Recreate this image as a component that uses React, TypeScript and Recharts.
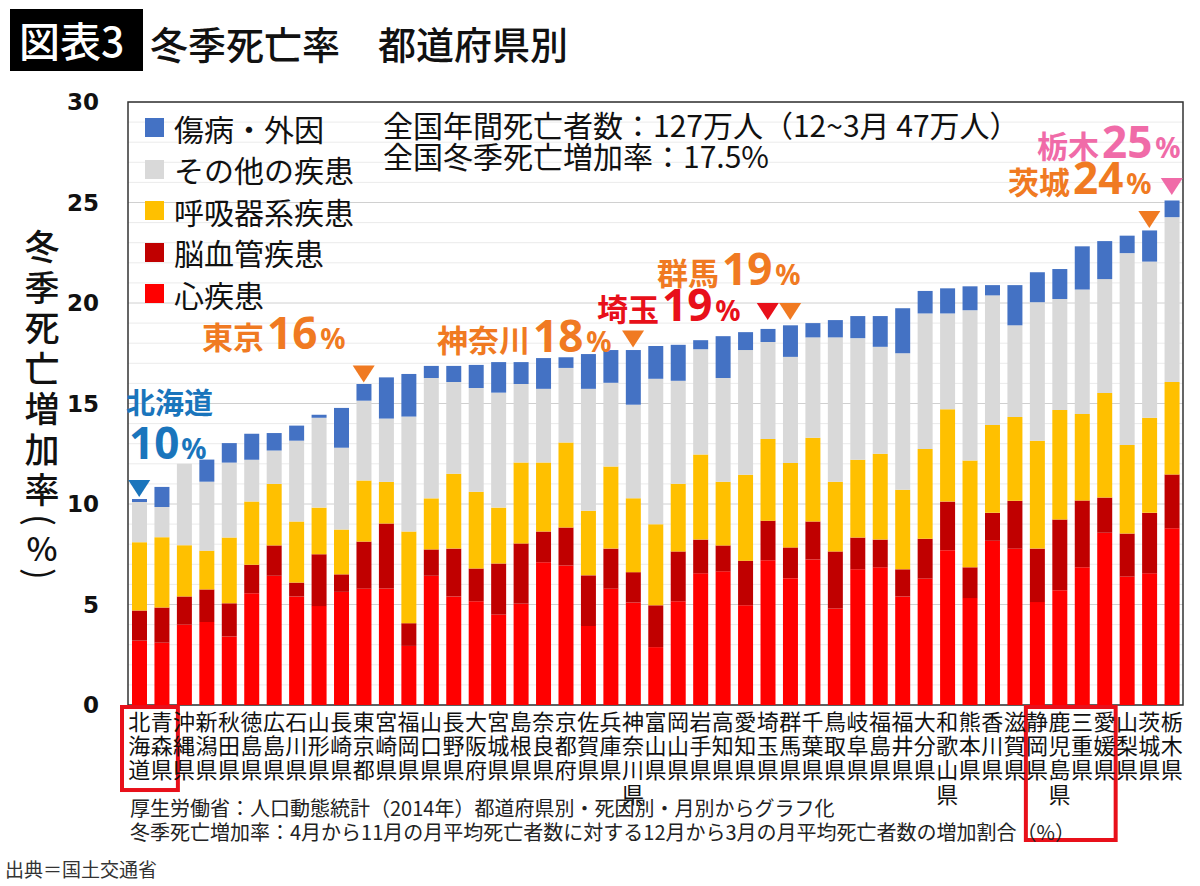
import React from 'react';
import { ComposedChart, Bar, Scatter, XAxis, YAxis, CartesianGrid, ReferenceArea, Legend } from 'recharts';

const prefectures = ['北海道','青森県','沖縄県','新潟県','秋田県','徳島県','広島県','石川県','山形県','長崎県','東京都','宮崎県','福岡県','山口県','長野県','大阪府','宮城県','島根県','奈良県','京都府','佐賀県','兵庫県','神奈川県','富山県','岡山県','岩手県','高知県','愛知県','埼玉県','群馬県','千葉県','鳥取県','岐阜県','福島県','福井県','大分県','和歌山県','熊本県','香川県','滋賀県','静岡県','鹿児島県','三重県','愛媛県','山梨県','茨城県','栃木県'];

const heartDisease = [3.2,3.1,4.0,4.13,3.41,5.56,6.43,5.4,4.92,5.63,5.79,5.79,2.94,6.43,5.4,5.16,4.5,5.04,7.1,6.94,3.93,5.79,5.1,2.88,5.16,6.55,6.65,4.96,7.2,6.31,7.24,4.8,6.75,6.85,5.4,6.29,7.7,5.32,8.17,7.78,5.12,5.71,6.85,8.57,6.39,6.55,8.79];
const cerebrovascular = [1.5,1.75,1.4,1.62,1.65,1.42,1.51,0.69,2.58,0.87,2.34,3.24,1.13,1.31,2.38,1.63,2.54,3.0,1.53,1.89,2.52,1.99,1.51,2.08,2.48,1.68,1.29,2.22,1.97,1.53,1.89,2.84,1.58,1.38,1.35,1.98,2.42,1.53,1.39,2.38,2.66,3.52,3.33,1.75,2.14,3.01,2.68];
const respiratory = [3.4,3.5,2.55,1.93,3.27,3.14,3.06,3.04,2.32,2.23,3.04,2.07,4.56,2.54,3.72,3.82,2.78,4.02,3.43,4.23,3.21,4.09,3.67,4.03,3.37,4.23,3.17,4.27,4.06,4.2,4.16,3.47,3.87,4.27,3.96,4.47,4.6,5.31,4.37,4.17,5.37,5.45,4.3,5.2,4.41,4.73,4.6];
const otherDiseases = [2.0,1.5,4.05,3.43,3.73,2.08,1.66,4.02,4.47,4.07,3.97,3.15,5.72,5.99,4.57,5.16,5.72,3.91,3.67,3.71,6.07,4.16,4.66,7.24,5.12,5.24,5.16,6.21,4.83,5.28,5.0,7.18,6.05,5.32,6.79,6.74,4.76,7.48,6.45,4.56,6.89,5.52,6.19,5.67,9.54,7.77,8.2];
const injuries = [0.15,1.0,0.0,1.1,0.97,1.3,0.87,0.75,0.15,1.98,0.83,2.05,2.12,0.6,0.8,1.15,1.52,1.09,1.53,0.53,1.73,1.63,2.72,1.63,1.79,0.45,2.08,0.89,0.65,1.57,0.71,0.86,1.1,1.53,2.24,1.12,1.25,1.19,0.51,2.0,1.49,1.49,2.15,1.89,0.87,1.55,0.83];

const seriesKeys = ['heart', 'cerebro', 'respiratory', 'other', 'injury'];
const seriesNames = ['心疾患', '脳血管疾患', '呼吸器系疾患', 'その他の疾患', '傷病・外因'];
const seriesColors = ['#FF0000', '#C00000', '#FFC000', '#D9D9D9', '#4472C4'];
const seriesValues = [heartDisease, cerebrovascular, respiratory, otherDiseases, injuries];

const yTicks = [0,1,2,3,4,5,6,7,8,9,10,11,12,13,14,15,16,17,18,19,20,21,22,23,24,25,26,27,28,29,30];

// highlighted prefectures: marker level (triangle tip, in %)
const markerNames = ['北海道', '東京都', '神奈川県', '埼玉県', '群馬県', '茨城県', '栃木県'];
const markerLevels = [10.35, 16.05, 17.78, 19.15, 19.15, 23.73, 25.37];
const ORANGE = '#F07A22';
const BLUE = '#1A75BC';
const RED = '#E8101A';
const PINK = '#F06BA8';
const markerColors = [BLUE, ORANGE, ORANGE, RED, ORANGE, ORANGE, PINK];

const calloutLabels = ['東京', '神奈川', '埼玉', '群馬', '栃木', '茨城'];
const calloutPcts = ['16', '18', '19', '19', '25', '24'];
const calloutColors = [ORANGE, ORANGE, RED, ORANGE, PINK, ORANGE];
const calloutPos = [[202, 349], [437, 352], [597, 321], [657, 285], [1037, 158], [1008, 194]];

const CJK = '"Noto Sans CJK JP", "Noto Sans CJK SC", sans-serif';
const NUM = '"Noto Sans", "DejaVu Sans", sans-serif';

const data = prefectures.map((name, i) => {
  const row: any = { name };
  seriesKeys.forEach((k, s) => { row[k] = seriesValues[s][i]; });
  const m = markerNames.indexOf(name);
  row.marker = m >= 0 ? markerLevels[m] : null;
  return row;
});

const XTick = (props: any) => {
  const { x, y, payload } = props;
  const chars = Array.from(String(payload.value));
  return (
    <text x={x} y={y} textAnchor="middle" fontSize={22} fill="#111" fontFamily={CJK}>
      {chars.map((c, i) => (
        <tspan key={i} x={x} dy={i === 0 ? 25 : 24.2}>{c}</tspan>
      ))}
    </text>
  );
};

const YTick = (props: any) => {
  const { x, y, payload } = props;
  if (payload.value % 5 !== 0) return <g />;
  return (
    <text x={x} y={y} dy={8} textAnchor="end" fontSize={23} fontWeight={700} fill="#111" fontFamily='"DejaVu Sans", sans-serif'>
      {payload.value}
    </text>
  );
};

const GridLine = (props: any) => {
  const { x1, x2, y1, y2, index } = props;
  const major = index % 5 === 0;
  return <line x1={x1} x2={x2} y1={y1} y2={y2} stroke={major ? '#D0D0D0' : '#EBEBEB'} strokeWidth={1} />;
};

const Triangle = (props: any) => {
  const { cx, cy, payload } = props;
  if (!payload || payload.marker == null || cx == null || cy == null || isNaN(cy)) return <g />;
  const m = markerNames.indexOf(payload.name);
  const color = markerColors[m];
  return <polygon points={`${cx - 11},${cy - 17} ${cx + 11},${cy - 17} ${cx},${cy}`} fill={color} />;
};

const PaddedBox = (props: any) => {
  const { x, y, width, height } = props;
  return <rect x={x - 6} y={y} width={width + 11} height={height} fill="none" stroke="#E8101A" strokeWidth={4} />;
};

const renderLegend = (props: any) => {
  const items = (props.payload || [])
    .filter((p: any) => seriesNames.includes(p.value))
    .sort((a: any, b: any) => seriesNames.indexOf(b.value) - seriesNames.indexOf(a.value));
  return (
    <div>
      {items.map((it: any) => (
        <div key={it.value} style={{ display: 'flex', alignItems: 'center', height: 41.5 }}>
          <span style={{ display: 'inline-block', width: 19, height: 19, background: it.color, marginRight: 10 }} />
          <span style={{ fontSize: 30, color: '#111', lineHeight: 1, fontFamily: CJK, whiteSpace: 'nowrap' }}>{it.value}</span>
        </div>
      ))}
    </div>
  );
};

const yTitleChars = ['冬', '季', '死', '亡', '増', '加', '率'];
const yTitleCenters = [244, 285, 325, 366, 406, 447, 487];

export default function App() {
  return (
    <div style={{ position: 'absolute', left: 0, top: 0, width: 1200, height: 886, background: '#fff', overflow: 'hidden' }}>
      <ComposedChart
        width={1200}
        height={886}
        data={data}
        margin={{ top: 102, right: 17, bottom: 81, left: 68 }}
        barSize={15}
      >
        <CartesianGrid vertical={false} horizontal={GridLine} />
        <XAxis dataKey="name" interval={0} tickLine={false} axisLine={false} height={100} tickSize={0} tickMargin={0} tick={XTick} />
        <YAxis domain={[0, 30]} ticks={yTicks} width={60} tickLine={false} axisLine={false} tickSize={0} tickMargin={29} tick={YTick} interval={0} />
        <ReferenceArea y1={0} y2={30} fill="none" fillOpacity={0} stroke="#333" strokeWidth={1.5} ifOverflow="visible" />
        <ReferenceArea x1="北海道" x2="青森県" y1={-0.1} y2={-4.23} ifOverflow="visible" shape={PaddedBox} />
        <ReferenceArea x1="静岡県" x2="愛媛県" y1={-0.1} y2={-6.72} fill="none" fillOpacity={0} stroke="#E8101A" strokeWidth={4} ifOverflow="visible" />
        {seriesKeys.map((k, s) => (
          <Bar key={k} dataKey={k} name={seriesNames[s]} stackId="a" fill={seriesColors[s]} barSize={15} isAnimationActive={false} />
        ))}
        <Scatter dataKey="marker" name="marker" shape={Triangle} isAnimationActive={false} legendType="none" />
        <Legend
          layout="vertical"
          align="center"
          verticalAlign="middle"
          content={renderLegend}
          wrapperStyle={{ left: 145, top: 107, width: 240, height: 210 }}
        />
      </ComposedChart>

      <svg width={1200} height={886} style={{ position: 'absolute', left: 0, top: 0, pointerEvents: 'none' }}>
        <rect x={10} y={9} width={133} height={62} fill="#000" />
        <text x={19} y={57} fontSize={41} fontWeight={500} fill="#fff" fontFamily={CJK}>図表3</text>
        <text x={150} y={59} fontSize={38} fontWeight={500} fill="#111" fontFamily={CJK}>冬季死亡率　都道府県別</text>

        {yTitleChars.map((c, i) => (
          <text key={i} x={42} y={yTitleCenters[i]} textAnchor="middle" dominantBaseline="central" fontSize={35} fontWeight={500} fill="#111" fontFamily={CJK}>{c}</text>
        ))}
        <text x={42} y={520} textAnchor="middle" dominantBaseline="central" fontSize={35} fill="#111" fontFamily={CJK} transform="rotate(90 42 520)">(</text>
        <text x={42} y={547} textAnchor="middle" dominantBaseline="central" fontSize={33} fontWeight={500} fill="#111" fontFamily={CJK}>%</text>
        <text x={42} y={574} textAnchor="middle" dominantBaseline="central" fontSize={35} fill="#111" fontFamily={CJK} transform="rotate(90 42 574)">)</text>

        <text x={383} y={137} fontSize={30} fill="#111" fontFamily={CJK}>全国年間死亡者数：127万人（12~3月 47万人）</text>
        <text x={383} y={168} fontSize={30} fill="#111" fontFamily={CJK}>全国冬季死亡増加率：17.5%</text>

        <text x={126} y={414} fill={BLUE} fontWeight={700} fontSize={29} fontFamily={CJK}>北海道</text>
        <text x={129} y={459} fill={BLUE} fontWeight={700}>
          <tspan fontSize={44} fontFamily={NUM}>10</tspan>
          <tspan fontSize={28} fontFamily={NUM} dx={2}>%</tspan>
        </text>

        {calloutLabels.map((lab, i) => (
          <text key={lab} x={calloutPos[i][0]} y={calloutPos[i][1]} fill={calloutColors[i]} fontWeight={700}>
            <tspan fontSize={31} fontFamily={CJK}>{lab}</tspan>
            <tspan fontSize={44} fontFamily={NUM} dx={3}>{calloutPcts[i]}</tspan>
            <tspan fontSize={28} fontFamily={NUM} dx={3}>%</tspan>
          </text>
        ))}

        <text x={130} y={816} fontSize={20} fill="#222" fontFamily={CJK}>厚生労働省：人口動態統計（2014年）都道府県別・死因別・月別からグラフ化</text>
        <text x={130} y={840} fontSize={20} fill="#222" fontFamily={CJK}>冬季死亡増加率：4月から11月の月平均死亡者数に対する12月から3月の月平均死亡者数の増加割合（%）</text>
        <text x={5} y={877} fontSize={19} fill="#333" fontFamily={CJK}>出典＝国土交通省</text>
      </svg>
    </div>
  );
}
